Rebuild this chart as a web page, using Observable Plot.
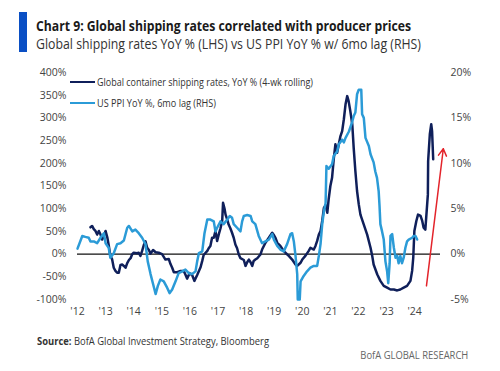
<!DOCTYPE html>
<html>
<head>
<meta charset="utf-8">
<script src="https://cdn.jsdelivr.net/npm/d3@7"></script>
<script src="https://cdn.jsdelivr.net/npm/@observablehq/plot@0.6"></script>
<style>
  html, body { margin: 0; padding: 0; background: #fff; }
  #wrap { position: relative; width: 500px; height: 371px; overflow: hidden; font-family: "Open Sans", sans-serif; }
  .abs { position: absolute; white-space: nowrap; line-height: 1; display: inline-block; }
  #chart { position: absolute; left: 0; top: 62px; }
</style>
</head>
<body>
<div id="wrap">
  <div class="abs" style="left:19px;top:12px;width:8px;height:40px;background:#0a4fc4;"></div>
  <div class="abs fit" data-w="375" style="left:36px;top:18px;font-size:15px;font-weight:700;color:#1a1a1a;">Chart 9: Global shipping rates correlated with producer prices</div>
  <div class="abs fit" data-w="385" style="left:36px;top:37px;font-size:14px;color:#333;">Global shipping rates YoY % (LHS) vs US PPI YoY % w/ 6mo lag (RHS)</div>
  <div id="chart"></div>
  <div class="abs" style="left:70px;top:80.8px;width:25px;height:2.6px;background:#0f1f5a;"></div>
  <div class="abs" style="left:70px;top:101.8px;width:25px;height:2.6px;background:#2b9bd7;"></div>
  <div class="abs fit" data-w="216" style="left:97px;top:76px;font-size:11.5px;color:#333;">Global container shipping rates, YoY % (4-wk rolling)</div>
  <div class="abs fit" data-w="119" style="left:97px;top:97px;font-size:11.5px;color:#333;">US PPI YoY %, 6mo lag (RHS)</div>
  <div class="abs fit" data-w="232" style="left:37px;top:335px;font-size:11px;color:#333;"><b>Source:</b> BofA Global Investment Strategy, Bloomberg</div>
  <div class="abs fitr" data-w="108" style="right:32px;top:350px;font-size:10.5px;color:#666;">BofA GLOBAL RESEARCH</div>
</div>
<script>
// Global container shipping rates, YoY % (4-wk rolling) — LHS
const shipX = [2012.46,2012.52,2012.58,2012.64,2012.70,2012.76,2012.82,2012.88,2012.94,2013.00,2013.06,2013.11,2013.17,2013.23,2013.29,2013.35,2013.41,2013.47,2013.53,2013.59,2013.65,2013.71,2013.77,2013.83,2013.89,2013.95,2014.00,2014.12,2014.18,2014.24,2014.30,2014.36,2014.42,2014.48,2014.54,2014.60,2014.69,2014.78,2014.89,2015.01,2015.13,2015.25,2015.31,2015.37,2015.43,2015.55,2015.67,2015.78,2015.84,2015.90,2015.99,2016.08,2016.16,2016.26,2016.38,2016.44,2016.49,2016.62,2016.67,2016.73,2016.79,2016.85,2016.91,2016.97,2017.03,2017.09,2017.15,2017.18,2017.23,2017.27,2017.33,2017.38,2017.44,2017.50,2017.56,2017.62,2017.68,2017.74,2017.80,2017.92,2017.98,2018.04,2018.10,2018.16,2018.22,2018.27,2018.33,2018.40,2018.51,2018.57,2018.69,2018.81,2018.93,2018.99,2019.05,2019.11,2019.22,2019.34,2019.40,2019.52,2019.64,2019.76,2019.82,2019.94,2020.00,2020.11,2020.23,2020.29,2020.41,2020.47,2020.53,2020.59,2020.65,2020.71,2020.77,2020.83,2020.89,2020.94,2021.00,2021.06,2021.12,2021.18,2021.24,2021.30,2021.36,2021.42,2021.48,2021.54,2021.60,2021.65,2021.71,2021.78,2021.83,2021.89,2021.95,2022.01,2022.07,2022.19,2022.31,2022.43,2022.49,2022.54,2022.67,2022.78,2022.90,2023.02,2023.14,2023.26,2023.38,2023.49,2023.61,2023.73,2023.85,2023.91,2023.95,2023.99,2024.06,2024.12,2024.21,2024.27,2024.32,2024.38,2024.42,2024.47,2024.48,2024.54,2024.59,2024.62,2024.66];
const shipY = [59,62,55,51,43,51,43,32,40,51,37,20,-4,-11,-30,-37,-41,-41,-24,-23,-26,-30,-20,-13,-9,0,3,2,3,-4,7,20,28,14,9,1,9,4,3,0,-12,-11,-22,-30,-40,-40,-37,-37,-45,-54,-42,-46,-59,-46,-29,-15,-2,7,13,18,36,36,51,29,44,57,73,113,101,87,76,65,57,47,36,21,13,-1,-9,-13,-26,-18,-12,-18,-26,-15,-12,-9,-1,10,25,36,47,42,35,25,18,7,3,-4,-12,-23,-26,-19,-12,-4,7,14,10,18,29,43,51,73,102,108,91,121,150,168,209,242,223,242,260,271,297,330,348,337,315,286,234,183,139,110,87,65,43,14,-4,-23,-45,-59,-70,-74,-78,-78,-80,-78,-74,-70,-59,-37,-8,51,73,87,84,73,58,54,88,131,205,264,286,271,209];

// US PPI YoY %, 6mo lag — RHS
const ppiX = [2012.00,2012.17,2012.28,2012.40,2012.46,2012.58,2012.70,2012.82,2012.94,2013.00,2013.11,2013.17,2013.29,2013.41,2013.53,2013.65,2013.77,2013.83,2013.95,2014.06,2014.18,2014.30,2014.42,2014.50,2014.60,2014.69,2014.78,2014.86,2014.95,2015.07,2015.19,2015.28,2015.37,2015.49,2015.60,2015.73,2015.84,2015.96,2016.08,2016.20,2016.26,2016.32,2016.44,2016.52,2016.62,2016.73,2016.85,2016.91,2016.97,2017.09,2017.20,2017.33,2017.42,2017.50,2017.56,2017.68,2017.80,2017.86,2017.92,2018.04,2018.16,2018.22,2018.33,2018.45,2018.57,2018.69,2018.81,2018.93,2018.99,2019.11,2019.22,2019.34,2019.46,2019.58,2019.64,2019.70,2019.76,2019.82,2019.84,2019.91,2019.94,2020.05,2020.17,2020.29,2020.41,2020.53,2020.59,2020.65,2020.71,2020.77,2020.83,2020.86,2020.94,2021.06,2021.12,2021.24,2021.30,2021.42,2021.48,2021.54,2021.66,2021.78,2021.83,2021.89,2021.95,2022.01,2022.10,2022.13,2022.19,2022.25,2022.37,2022.43,2022.54,2022.60,2022.66,2022.72,2022.75,2022.78,2022.84,2022.90,2022.96,2023.02,2023.06,2023.11,2023.14,2023.20,2023.26,2023.32,2023.38,2023.43,2023.49,2023.55,2023.61,2023.67,2023.73,2023.79,2023.91,2023.97,2024.03,2024.09];
const ppiY = [0.6,2.0,1.9,1.8,1.4,1.4,1.2,1.8,2.3,1.2,0.7,-0.4,0.1,1.1,1.2,1.5,2.9,3.1,2.5,2.7,2.3,1.8,1.1,-0.8,-2.2,-3.3,-4.4,-3.5,-2.8,-3.0,-3.7,-4.3,-3.9,-3.0,-2.1,-1.9,-1.7,-2.1,-2.2,-1.9,-0.8,0.1,0.3,2.3,3.8,3.8,3.6,2.5,2.9,3.6,3.3,3.8,4.2,4.0,3.3,2.9,2.5,3.6,4.2,4.3,4.2,3.6,3.3,2.0,1.2,1.4,1.6,2.2,1.6,0.9,0.5,0.3,1.1,2.2,2.3,1.4,-0.2,-2.2,-5.0,-5.0,-3.0,-2.4,-1.9,-1.5,-1.3,-1.3,-0.2,1.1,3.3,4.7,5.6,9.7,9.4,9.9,10.8,11.3,12.1,12.6,12.3,12.8,13.5,14.6,15.2,15.6,17.6,18.1,18.1,15.4,15.0,12.8,11.9,11.0,10.1,9.1,8.4,6.9,5.3,3.3,2.5,1.6,-0.8,-1.9,-3.2,-1.0,2.0,2.2,0.7,-0.4,-0.2,-1.0,-0.2,-1.0,-0.4,0.7,1.4,1.6,1.8,2.0,2.0,1.6];

// Axis ticks
const xTicks = [2012,2013,2014,2015,2016,2017,2018,2019,2020,2021,2022,2023,2024];
const leftTicks = [-100,-50,0,50,100,150,200,250,300,350,400];
const rightTicks = [-5,0,5,10,15,20];
const rhsToLhs = 20; // RHS 1% == LHS 20%

// Red arrow (start, end)
const arrowX = [2024.42, 2025.02];
const arrowY = [-70, 232];

const ship = shipX.map((x, i) => ({x, y: shipY[i]}));
const ppi = ppiX.map((x, i) => ({x, y: ppiY[i] * rhsToLhs}));
const arrow = [{x1: arrowX[0], y1: arrowY[0], x2: arrowX[1], y2: arrowY[1]}];

const chart = Plot.plot({
  width: 500,
  height: 259,
  marginTop: 10,
  marginBottom: 22,
  marginLeft: 77,
  marginRight: 60,
  style: {fontFamily: "'Open Sans', sans-serif", fontSize: "10.5px", color: "#444", background: "transparent", overflow: "visible"},
  x: {domain: [2012, 2024.92]},
  y: {domain: [-100, 400]},
  marks: [
    Plot.axisY({ticks: leftTicks, tickFormat: d => d + "%", tickSize: 0, tickPadding: 11, anchor: "left", label: null}),
    Plot.axisY({ticks: rightTicks.map(d => d * rhsToLhs), tickFormat: d => (d / rhsToLhs) + "%", tickSize: 0, tickPadding: 10, anchor: "right", label: null}),
    Plot.axisX({ticks: xTicks, tickFormat: d => "'" + String(d).slice(2), tickSize: 0, tickPadding: 8, label: null}),
    Plot.ruleY([0], {stroke: "#111", strokeWidth: 1.3}),
    Plot.line(ship, {x: "x", y: "y", stroke: "#0f1f5a", strokeWidth: 2.5, curve: "linear"}),
    Plot.line(ppi, {x: "x", y: "y", stroke: "#2b9bd7", strokeWidth: 2.5, curve: "linear"}),
    Plot.arrow(arrow, {x1: "x1", y1: "y1", x2: "x2", y2: "y2", stroke: "#e3242b", strokeWidth: 1.5, headLength: 8})
  ]
});
document.getElementById("chart").appendChild(chart);

document.querySelectorAll(".fit, .fitr").forEach(el => {
  const w = el.getBoundingClientRect().width;
  const target = +el.dataset.w;
  el.style.transformOrigin = el.classList.contains("fitr") ? "right center" : "left center";
  el.style.transform = `scaleX(${target / w})`;
});
</script>
</body>
</html>
